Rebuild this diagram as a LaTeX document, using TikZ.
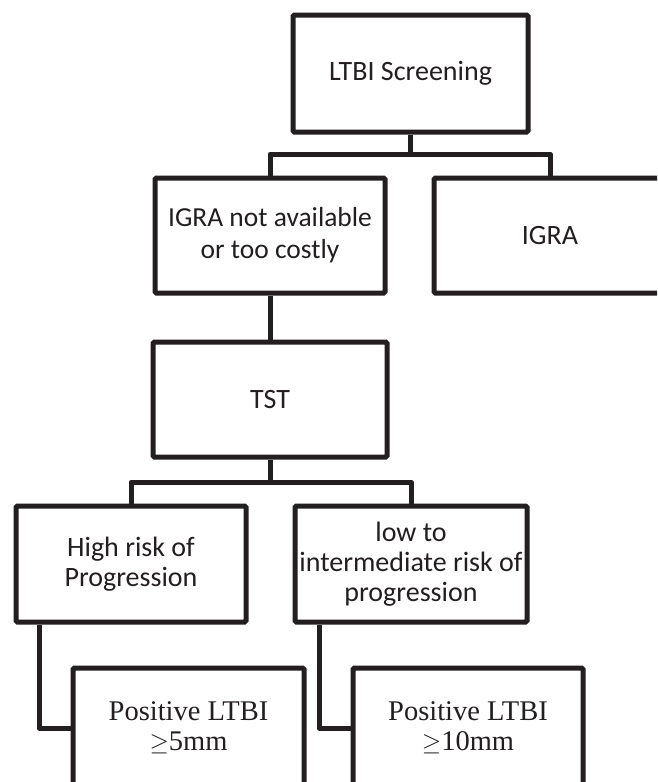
\documentclass[tikz,border=0pt]{standalone}
\usepackage{fontspec}
\setmainfont{Carlito}
\newfontfamily\timesfont{Liberation Serif}
\definecolor{ink}{HTML}{231F20}
\begin{document}
\begin{tikzpicture}[x=1pt,y=-1pt,
  box/.style={draw=ink, line width=5pt, rounded corners=1.5pt, inner sep=0pt,
    align=center, text=ink, font=\fontsize{28}{30}\selectfont},
  resbox/.style={box, font=\timesfont\fontsize{28.5}{30}\selectfont},
  link/.style={draw=ink, line width=5pt, line join=round}]
\useasboundingbox (0,0) rectangle (657,782);
\clip (0,0) rectangle (657,782);
\fill[white] (0,0) rectangle (657,782);
% nodes
\node[box, minimum width=235pt, minimum height=117pt] (top) at (410.5,73.5) {LTBI Screening};
\node[box, minimum width=230pt, minimum height=115pt, font=\fontsize{27.5}{32}\selectfont] (na) at (270,235.5) {IGRA not available\\or too costly};
\node[box, minimum width=232pt, minimum height=115pt] (igra) at (550,235.5) {IGRA};
\node[box, minimum width=234pt, minimum height=115pt] (tst) at (270,399.5) {TST};
\node[box, minimum width=230pt, minimum height=116pt] (high) at (131,564) {High risk of\\Progression};
\node[box, minimum width=232pt, minimum height=116pt] (low) at (411,564) {low to\\intermediate risk of\\progression};
\node[resbox, minimum width=231pt, minimum height=120pt] (pos5) at (188.5,728) {Positive LTBI\\$\geq$5mm};
\node[resbox, minimum width=230pt, minimum height=120pt] (pos10) at (468,728) {Positive LTBI\\$\geq$10mm};
% junction points
\coordinate (j1) at (410.5,154);
\coordinate (j2) at (270,482);
\coordinate (e5) at ([xshift=-92pt]high.south);
\coordinate (e10) at ([xshift=-92pt]low.south);
% connectors
\draw[link] (top.south) -- (j1);
\draw[link] (na.north) |- (j1) -| (igra.north);
\draw[link] (na.south) -- (tst.north);
\draw[link] (tst.south) -- (j2);
\draw[link] (high.north) |- (j2) -| (low.north);
\draw[link] (e5) |- (pos5.west);
\draw[link] (e10) |- (pos10.west);
\end{tikzpicture}
\end{document}
